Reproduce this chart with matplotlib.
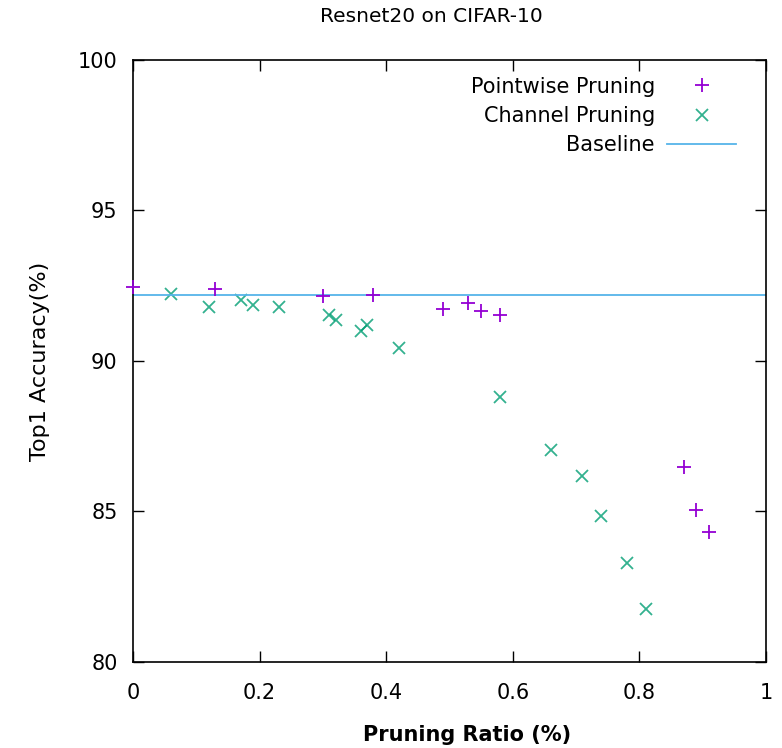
import matplotlib
matplotlib.use("Agg")
import matplotlib.pyplot as plt

# Pointwise pruning results
pw_ratio = [0.0, 0.13, 0.30, 0.38, 0.49, 0.53, 0.55, 0.58, 0.87, 0.89, 0.91]
pw_acc = [92.46, 92.39, 92.16, 92.2, 91.73, 91.93, 91.66, 91.53, 86.48, 85.05, 84.32]

# Channel pruning results
ch_ratio = [0.06, 0.12, 0.17, 0.19, 0.23, 0.31, 0.32, 0.36, 0.37, 0.42,
            0.58, 0.66, 0.71, 0.74, 0.78, 0.81]
ch_acc = [92.23, 91.8, 92.03, 91.86, 91.8, 91.53, 91.36, 91.0, 91.2, 90.43,
          88.8, 87.04, 86.18, 84.85, 83.29, 81.76]

baseline = 92.2

fig = plt.figure(figsize=(7.82, 7.48), dpi=100)
ax = fig.add_axes([0.170, 0.115, 0.8095, 0.805])

ax.plot(pw_ratio, pw_acc, linestyle='none', marker='+', color='#9400D3',
        markersize=10, markeredgewidth=1.3, clip_on=False, zorder=3,
        label='Pointwise Pruning')
ax.plot(ch_ratio, ch_acc, linestyle='none', marker='x', color='#009E73',
        markersize=9, markeredgewidth=1.3, alpha=0.8, label='Channel Pruning')
ax.axhline(baseline, color='#56B4E9', linewidth=1.3, label='Baseline')

ax.set_xlim(0, 1)
ax.set_ylim(80, 100)
ax.set_xticks([0, 0.2, 0.4, 0.6, 0.8, 1])
ax.set_xticklabels(['0', '0.2', '0.4', '0.6', '0.8', '1'])
ax.set_yticks([80, 85, 90, 95, 100])
ax.tick_params(direction='in', length=8, width=1.0, top=True, right=True,
               labelsize=15)
ax.tick_params(axis='x', pad=15)
ax.tick_params(axis='y', pad=11)
for s in ax.spines.values():
    s.set_linewidth(1.2)

ax.set_title('Resnet20 on CIFAR-10', fontsize=14.5, pad=27, x=0.472)
ax.set_xlabel('Pruning Ratio (%)', fontsize=15, fontweight='bold')
ax.xaxis.set_label_coords(0.528, -0.104)
ax.set_ylabel('Top1 Accuracy(%)', fontsize=16, labelpad=20)

ax.legend(loc='upper right', bbox_to_anchor=(0.953, 0.972), frameon=False,
          markerfirst=False, fontsize=15, handlelength=3.3, labelspacing=0.45,
          handletextpad=0.6, borderpad=0, borderaxespad=0)

fig.savefig('out.png', dpi=100)
